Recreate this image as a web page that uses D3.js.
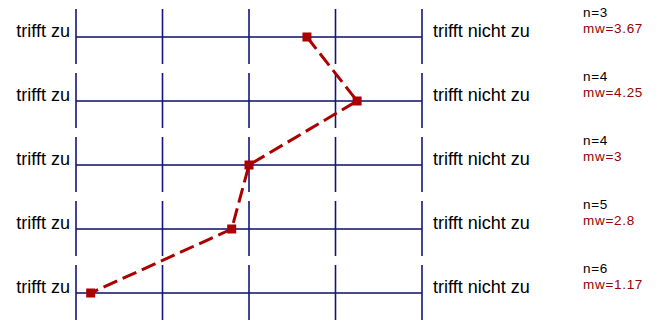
<!DOCTYPE html>
<html>
<head>
<meta charset="utf-8">
<script src="https://cdn.jsdelivr.net/npm/d3@7"></script>
<style>
  html, body { margin: 0; padding: 0; background: #fff; }
  svg { display: block; font-family: "Liberation Sans", Arial, sans-serif; }
</style>
</head>
<body>
<svg id="chart" width="664" height="321"></svg>
<script>
// Items of the profile, top to bottom
const items = ["i1", "i2", "i3", "i4", "i5"];
const leftLabels = ["trifft zu", "trifft zu", "trifft zu", "trifft zu", "trifft zu"];
const rightLabels = ["trifft nicht zu", "trifft nicht zu", "trifft nicht zu", "trifft nicht zu", "trifft nicht zu"];
const counts = [3, 4, 4, 5, 6];
const means = [3.67, 4.25, 3, 2.8, 1.17];
const scaleTicks = [1, 2, 3, 4, 5];

const svg = d3.select("#chart");

const x = d3.scaleLinear().domain([1, 5]).range([76, 422]);
const y = d3.scalePoint().domain(items).range([37, 293]);

const gridColor = "#0c0c6c";
const tickColor = "#141480";
const red = "#aa0000";

// one row per item: horizontal rule and the five scale ticks
const rows = svg.selectAll("g.row").data(items).join("g")
  .attr("class", "row")
  .attr("transform", d => `translate(0,${y(d)})`);

rows.append("line")
  .attr("x1", x(1)).attr("x2", x(5))
  .attr("y1", 0).attr("y2", 0)
  .attr("stroke", gridColor).attr("stroke-width", 1.6);

rows.selectAll("line.tick").data(scaleTicks).join("line")
  .attr("class", "tick")
  .attr("x1", d => x(d)).attr("x2", d => x(d))
  .attr("y1", -28).attr("y2", 27)
  .attr("stroke", tickColor).attr("stroke-width", 1.6);

rows.append("text")
  .attr("x", 70).attr("y", 0)
  .attr("text-anchor", "end")
  .attr("font-size", 18)
  .attr("fill", "#000")
  .text((d, i) => leftLabels[i]);

rows.append("text")
  .attr("x", 433).attr("y", 0)
  .attr("font-size", 18)
  .attr("fill", "#000")
  .text((d, i) => rightLabels[i]);

// sample size and mean beside each item
rows.append("text")
  .attr("x", 583).attr("y", -20.5)
  .attr("font-size", 13.5)
  .attr("letter-spacing", 0.7)
  .attr("fill", "#000")
  .text((d, i) => "n=" + counts[i]);

rows.append("text")
  .attr("x", 583).attr("y", -4.5)
  .attr("font-size", 13.5)
  .attr("letter-spacing", 0.7)
  .attr("fill", "#990000")
  .text((d, i) => "mw=" + means[i]);

// mean profile line
const pts = items.map((d, i) => [x(means[i]), y(d)]);

svg.append("path")
  .attr("d", d3.line()(pts))
  .attr("fill", "none")
  .attr("stroke", red)
  .attr("stroke-width", 3)
  .attr("stroke-dasharray", "15,6");

svg.selectAll("rect.mark").data(pts).join("rect")
  .attr("class", "mark")
  .attr("x", d => d[0] - 4.5)
  .attr("y", d => d[1] - 4.5)
  .attr("width", 9).attr("height", 9)
  .attr("fill", red);
</script>
</body>
</html>
